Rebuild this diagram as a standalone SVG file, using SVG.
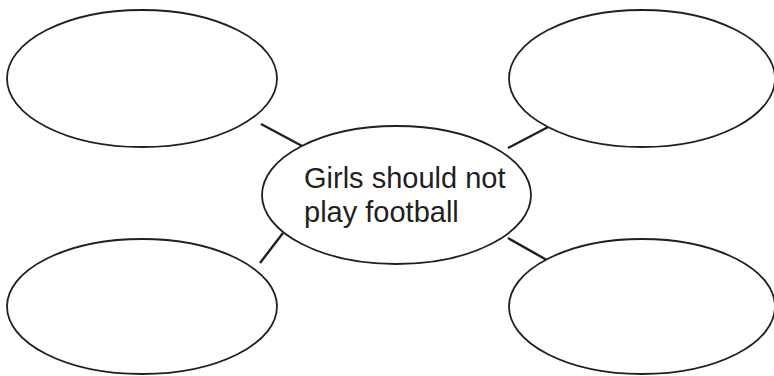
<svg xmlns="http://www.w3.org/2000/svg" width="774" height="376" viewBox="0 0 774 376">
<style>
.n{fill:#fff;stroke:#231f20;stroke-width:1.8}
.c{stroke:#231f20;stroke-width:2.4;fill:none}
.t{font-family:"Liberation Sans",Arial,sans-serif;font-size:29px;fill:#231f20}
</style>
<rect width="774" height="376" fill="#fff"/>
<g id="connectors">
<line class="c" x1="261" y1="124" x2="304" y2="147"/>
<line class="c" x1="508" y1="148" x2="552" y2="125"/>
<line class="c" x1="260" y1="263" x2="283" y2="233"/>
<line class="c" x1="508" y1="238" x2="552" y2="263"/>
</g>
<g id="top-left"><ellipse class="n" cx="142" cy="78.5" rx="135" ry="68.5"/></g>
<g id="top-right"><ellipse class="n" cx="642" cy="78.5" rx="133" ry="68.5"/></g>
<g id="bottom-left"><ellipse class="n" cx="142" cy="306.5" rx="135" ry="67.5"/></g>
<g id="bottom-right"><ellipse class="n" cx="642" cy="306.5" rx="133" ry="67.5"/></g>
<g id="center">
<ellipse class="n" cx="396.5" cy="195" rx="134.5" ry="69"/>
<text class="t" x="304" y="187.5">Girls should not</text>
<text class="t" x="304" y="221.5">play football</text>
</g>
</svg>
